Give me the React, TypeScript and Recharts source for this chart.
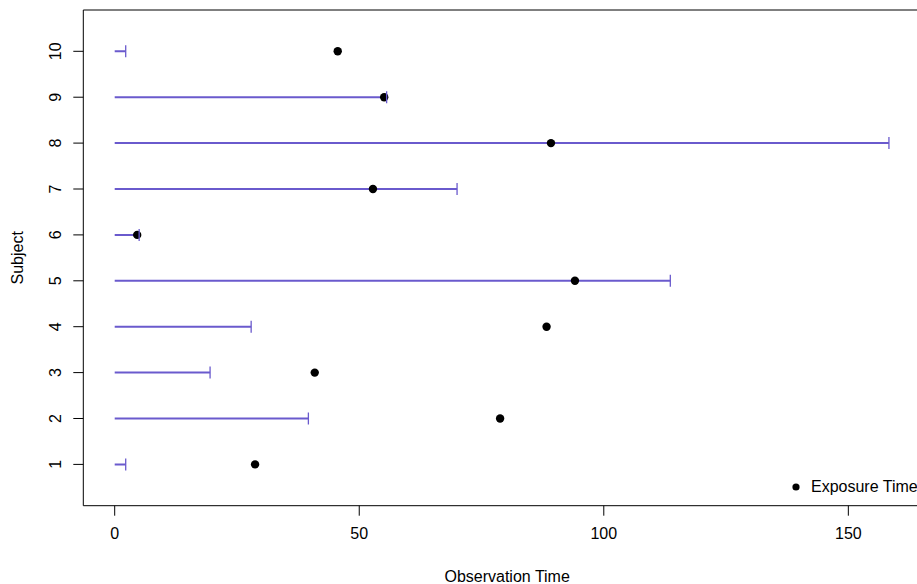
import React from 'react';
import { ComposedChart, Line, Scatter, XAxis, YAxis, ReferenceArea, Legend } from 'recharts';

const subjects = [1, 2, 3, 4, 5, 6, 7, 8, 9, 10];
const observationTimes = [2.25, 39.6, 19.5, 27.9, 113.6, 5.0, 70.0, 158.3, 55.6, 2.25];
const exposureTimes = [28.7, 78.8, 40.9, 88.3, 94.1, 4.6, 52.8, 89.2, 55.1, 45.6];
const xTicks = [0, 50, 100, 150];
const xDomain = [-6.42, 166.9];
const yDomain = [0.1, 10.9];

const FONT = '"Liberation Sans", Arial, Helvetica, sans-serif';
const FONT_SIZE = 16;
const SEG_COLOR = '#6A5ACD';

const EndCap = (props: any) => {
    const { cx, cy, index } = props;
    if (index !== 1) return <g key={`s-${index}`} />;
    return <line key={`c-${index}`} x1={cx} x2={cx} y1={cy - 6} y2={cy + 6} stroke={SEG_COLOR} strokeWidth={1.3} />;
};

const SubjectTick = (props: any) => {
    const { y, payload } = props;
    return (
        <text x={61} y={y} transform={`rotate(-90, 61, ${y})`} textAnchor="middle"
            fontSize={FONT_SIZE} fontFamily={FONT} fill="#000">
            {payload.value}
        </text>
    );
};

const LegendBox = () => (
    <div style={{ display: 'flex', alignItems: 'center', fontFamily: FONT, fontSize: FONT_SIZE, color: '#000', whiteSpace: 'nowrap' }}>
        <svg width={8} height={8}><circle cx={4} cy={4} r={3.6} fill="#000" /></svg>
        <span style={{ marginLeft: 11 }}>Exposure Time</span>
    </div>
);

export default function App() {
    const exposure = subjects.map((s, i) => ({ x: exposureTimes[i], y: s }));

    return (
        <div style={{ width: 917, height: 584, overflow: 'hidden', position: 'relative', background: '#fff' }}>
            <style>{'body{margin:0}'}</style>
            <ComposedChart width={940} height={584} margin={{ top: 10, right: 9, bottom: 0, left: 0 }}>
                <XAxis type="number" dataKey="x" domain={xDomain} ticks={xTicks} allowDataOverflow
                    height={78.3} tickSize={10} tickMargin={12} axisLine={false}
                    tickLine={{ stroke: '#000' }}
                    tick={{ fill: '#000', fontSize: FONT_SIZE, fontFamily: FONT }}
                    label={{
                        content: (p: any) => (
                            <text x={p.viewBox.x + p.viewBox.width / 2} y={582} textAnchor="middle"
                                fontSize={FONT_SIZE} fontFamily={FONT} fill="#000">Observation Time</text>
                        )
                    }} />
                <YAxis type="number" dataKey="y" domain={yDomain} ticks={subjects} allowDataOverflow
                    width={83.3} tickSize={10} axisLine={false}
                    tickLine={{ stroke: '#000' }}
                    tick={<SubjectTick />}
                    label={{
                        content: (p: any) => {
                            const cy = p.viewBox.y + p.viewBox.height / 2;
                            return (
                                <text x={23} y={cy} transform={`rotate(-90, 23, ${cy})`} textAnchor="middle"
                                    fontSize={FONT_SIZE} fontFamily={FONT} fill="#000">Subject</text>
                            );
                        }
                    }} />
                <ReferenceArea x1={xDomain[0]} x2={xDomain[1]} y1={yDomain[0]} y2={yDomain[1]}
                    fill="none" stroke="#000" strokeWidth={1} fillOpacity={0} />
                {subjects.map((s, i) => (
                    <Line key={`obs-${s}`} data={[{ x: 0, y: s }, { x: observationTimes[i], y: s }]}
                        dataKey="y" stroke={SEG_COLOR} strokeWidth={2} dot={EndCap} activeDot={false}
                        legendType="none" isAnimationActive={false} />
                ))}
                <Scatter name="Exposure Time" data={exposure} fill="#000" isAnimationActive={false}
                    shape={(p: any) => <circle cx={p.cx} cy={p.cy} r={4.2} fill="#000" />} />
                <Legend layout="horizontal" verticalAlign="middle" align="center" content={<LegendBox />}
                    wrapperStyle={{ left: 792, top: 478, width: 'auto' }} />
            </ComposedChart>
        </div>
    );
}
